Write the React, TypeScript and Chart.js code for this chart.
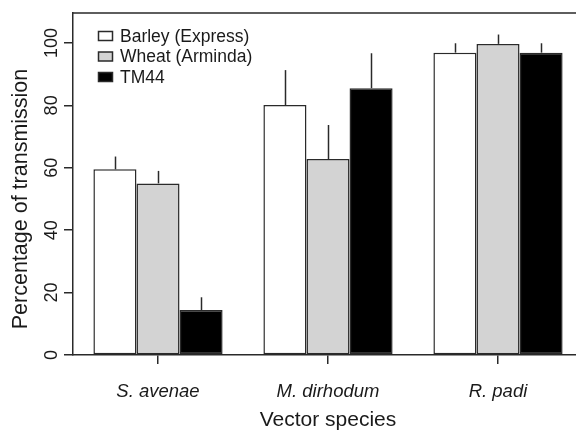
import React, { useEffect, useRef } from "react";
import { Chart, registerables } from "chart.js";

Chart.register(...registerables);

const categories = ["S. avenae", "M. dirhodum", "R. padi"];
const seriesNames = ["Barley (Express)", "Wheat (Arminda)", "TM44"];
const barley = [59.5, 80.1, 96.9];
const wheat = [55.0, 62.8, 99.7];
const tm44 = [14.4, 85.5, 96.9];
const barleyErr = [4.1, 11.2, 3.0];
const wheatErr = [4.0, 10.9, 3.0];
const tm44Err = [4.1, 11.2, 3.0];
const yTicks = [0, 20, 40, 60, 80, 100];
const yTitle = "Percentage of transmission";
const xTitle = "Vector species";

const FONT = "'Liberation Sans', Arial, sans-serif";
const INK = "#1a1a1a";
const LINE = "#2a2a2a";
const fills = ["#ffffff", "#d3d3d3", "#000000"];

const customPlugin = {
  id: "customDecor",
  afterDatasetsDraw(chart: any) {
    const ctx = chart.ctx;
    const errs = [barleyErr, wheatErr, tm44Err];
    const vals = [barley, wheat, tm44];
    const y = chart.scales.y;
    ctx.save();
    ctx.strokeStyle = LINE;
    ctx.lineWidth = 1.5;
    chart.data.datasets.forEach((_: any, i: number) => {
      const meta = chart.getDatasetMeta(i);
      meta.data.forEach((bar: any, j: number) => {
        const top = y.getPixelForValue(vals[i][j]);
        const end = y.getPixelForValue(vals[i][j] + errs[i][j]);
        ctx.beginPath();
        ctx.moveTo(Math.round(bar.x) + 0.5, top);
        ctx.lineTo(Math.round(bar.x) + 0.5, end);
        ctx.stroke();
      });
    });
    ctx.restore();
  },
  afterDraw(chart: any) {
    const ctx = chart.ctx;
    const area = chart.chartArea;
    const y = chart.scales.y;
    const x = chart.scales.x;
    ctx.save();
    // frame top + right
    ctx.strokeStyle = LINE;
    ctx.lineWidth = 1.5;
    ctx.beginPath();
    ctx.moveTo(area.left, area.top);
    ctx.lineTo(area.right, area.top);
    ctx.lineTo(area.right, area.bottom);
    ctx.stroke();

    ctx.fillStyle = INK;
    // y tick labels (rotated)
    ctx.font = `18px ${FONT}`;
    ctx.textAlign = "center";
    ctx.textBaseline = "alphabetic";
    yTicks.forEach((v) => {
      const py = y.getPixelForValue(v);
      ctx.save();
      ctx.translate(57, py);
      ctx.rotate(-Math.PI / 2);
      ctx.fillText(String(v), 0, 0);
      ctx.restore();
    });
    // y title
    ctx.save();
    ctx.font = `21.5px ${FONT}`;
    ctx.translate(27, 199);
    ctx.rotate(-Math.PI / 2);
    ctx.fillText(yTitle, 0, 0);
    ctx.restore();
    // x tick labels
    ctx.font = `italic 18.5px ${FONT}`;
    categories.forEach((c, i) => {
      ctx.fillText(c, x.getPixelForValue(i), 397);
    });
    // x title
    ctx.font = `21px ${FONT}`;
    ctx.fillText(xTitle, (area.left + area.right) / 2, 426);

    // legend
    ctx.font = `17.5px ${FONT}`;
    ctx.textAlign = "left";
    ctx.textBaseline = "middle";
    const rows = [36, 56.5, 77];
    seriesNames.forEach((name, i) => {
      const cy = rows[i];
      ctx.fillStyle = fills[i];
      ctx.fillRect(98.5, cy - 4.5, 14, 9);
      ctx.strokeStyle = LINE;
      ctx.lineWidth = 1.5;
      ctx.strokeRect(98.5, cy - 4.5, 14, 9);
      ctx.fillStyle = INK;
      ctx.fillText(name, 120, cy + 1);
    });
    ctx.restore();
  },
};

export default function App() {
  const ref = useRef<HTMLCanvasElement | null>(null);
  useEffect(() => {
    document.documentElement.style.overflow = "hidden";
    document.body.style.overflow = "hidden";
    const canvas = ref.current!;
    const datasets = [barley, wheat, tm44].map((d, i) => ({
      label: seriesNames[i],
      data: d,
      backgroundColor: fills[i],
      borderColor: LINE,
      borderWidth: 1.5,
      borderSkipped: false as const,
      categoryPercentage: 0.76,
      barPercentage: 1.0,
    }));
    const chart = new Chart(canvas, {
      type: "bar",
      data: { labels: categories, datasets },
      options: {
        animation: false,
        responsive: false,
        devicePixelRatio: 1,
        layout: { padding: { top: 13, left: 0, right: 0, bottom: 0 } },
        plugins: { legend: { display: false }, tooltip: { enabled: false } },
        scales: {
          x: {
            type: "category",
            offset: true,
            grid: {
              offset: false,
              drawOnChartArea: false,
              drawTicks: true,
              tickLength: 9,
              color: LINE,
              lineWidth: 1.5,
            },
            border: { display: true, color: LINE, width: 1.5 },
            ticks: { display: false },
            afterFit: (s: any) => {
              s.height = 75;
            },
          },
          y: {
            min: 0,
            max: 109.6,
            grid: {
              drawOnChartArea: false,
              drawTicks: true,
              tickLength: 9,
              color: LINE,
              lineWidth: 1.5,
            },
            border: { display: true, color: LINE, width: 1.5 },
            ticks: { display: false },
            afterBuildTicks: (s: any) => {
              s.ticks = yTicks.map((v) => ({ value: v }));
            },
            afterFit: (s: any) => {
              s.width = 73;
            },
          },
        },
      },
      plugins: [customPlugin],
    });
    return () => chart.destroy();
  }, []);
  return (
    <div style={{ position: "fixed", left: 0, top: 0, width: 583, height: 430, background: "#fff" }}>
      <canvas ref={ref} width={583} height={430} style={{ width: 583, height: 430, display: "block" }} />
    </div>
  );
}
